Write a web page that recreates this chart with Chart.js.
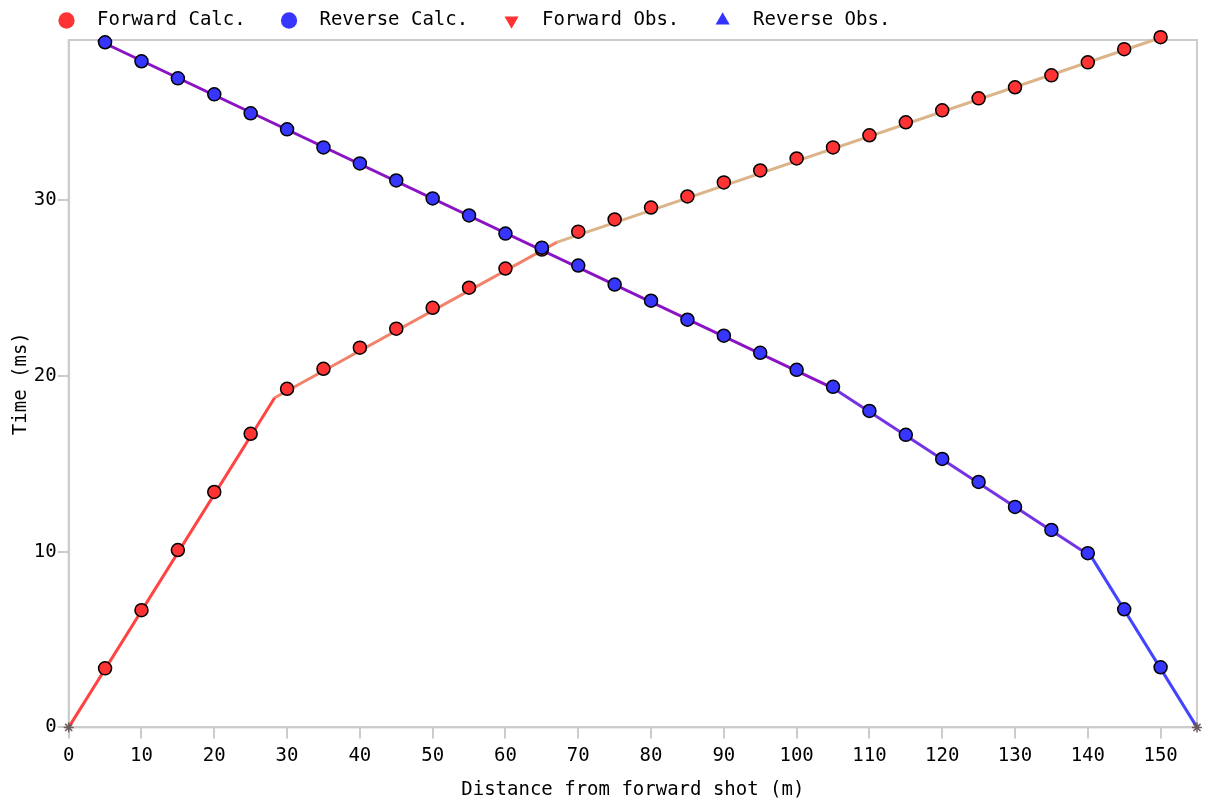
<!DOCTYPE html>
<html>
<head>
<meta charset="utf-8">
<script src="https://cdn.jsdelivr.net/npm/chart.js@4.4.0/dist/chart.umd.min.js"></script>
<style>
  html, body { margin: 0; padding: 0; background: #fff; }
  #wrap { width: 1210px; height: 808px; }
</style>
</head>
<body>
<div id="wrap"><canvas id="myChart"></canvas></div>
<script>
// receiver positions (m)
const distance = [5, 10, 15, 20, 25, 30, 35, 40, 45, 50, 55, 60, 65, 70, 75,
                  80, 85, 90, 95, 100, 105, 110, 115, 120, 125, 130, 135, 140, 145, 150];
// travel times (ms)
const forwardCalc = [3.36, 6.67, 10.09, 13.39, 16.70, 19.26, 20.40, 21.60, 22.68, 23.87,
                     25.01, 26.10, 27.18, 28.20, 28.89, 29.57, 30.20, 31.00, 31.68, 32.36,
                     32.99, 33.68, 34.42, 35.10, 35.78, 36.41, 37.09, 37.83, 38.58, 39.26];
const reverseCalc = [38.97, 37.89, 36.92, 36.01, 34.93, 34.02, 32.99, 32.08, 31.11, 30.09,
                     29.12, 28.09, 27.29, 26.27, 25.19, 24.27, 23.19, 22.28, 21.31, 20.34,
                     19.37, 18.00, 16.64, 15.27, 13.96, 12.54, 11.23, 9.91, 6.72, 3.42];
// shot points
const shotX = [0, 155];
const shotY = [0, 0];
// fitted travel-time branches (layer 1, 2, 3)
const fwdBranchX = [[0, 28.3], [28.3, 67.1], [67.1, 150.5]];
const fwdBranchY = [[0, 18.75], [18.75, 27.6], [27.6, 39.3]];
const revBranchX = [[155, 140.5], [140.5, 105], [105, 4]];
const revBranchY = [[0, 9.7], [9.7, 19.3], [19.3, 39.1]];
const fwdColors = ['#ff4242', '#f2836a', '#dcb48a'];
const revColors = ['#4444ff', '#7434e6', '#8a14c4'];

const xTicks = [0, 155, 10];
const yTicks = [0, 39.1, 10];

function pts(xs, ys) {
    return xs.map((x, i) => ({ x: x, y: ys[i] }));
}

Chart.defaults.font.family = "'DejaVu Sans Mono', monospace";
Chart.defaults.font.size = 19;
Chart.defaults.color = '#000';

var datasets = [
    {
        label: 'Forward Calc.',
        data: pts(distance, forwardCalc),
        backgroundColor: '#ff3333',
        borderColor: '#000',
        pointRadius: 6.5,
        pointBorderWidth: 1.5,
        clip: false,
        inLegend: true
    },
    {
        label: 'Reverse Calc.',
        data: pts(distance, reverseCalc),
        backgroundColor: '#3636ff',
        borderColor: '#000',
        pointRadius: 6.5,
        pointBorderWidth: 1.5,
        clip: false,
        order: -1, // blue points sit on top of red ones
        inLegend: true
    },
    {
        label: 'Forward Obs.',
        data: [],
        backgroundColor: '#ff3333',
        borderColor: '#ff3333',
        pointStyle: 'triangle',
        pointRotation: 180,
        inLegend: true
    },
    {
        label: 'Reverse Obs.',
        data: [],
        backgroundColor: '#3333ff',
        borderColor: '#3333ff',
        pointStyle: 'triangle',
        inLegend: true
    },
    {
        label: 'shots',
        data: pts(shotX, shotY),
        pointStyle: 'star',
        pointRadius: 5,
        borderColor: '#6a5a5a',
        pointBorderWidth: 1.5,
        clip: false
    }
];

// line branches go underneath the points
fwdBranchX.forEach(function(xs, i) {
    datasets.push({
        label: 'fwd' + i,
        data: pts(xs, fwdBranchY[i]),
        showLine: true,
        borderColor: fwdColors[i],
        borderWidth: 3,
        pointRadius: 0,
        clip: false
    });
});
revBranchX.forEach(function(xs, i) {
    datasets.push({
        label: 'rev' + i,
        data: pts(xs, revBranchY[i]),
        showLine: true,
        borderColor: revColors[i],
        borderWidth: 3,
        pointRadius: 0,
        clip: false
    });
});

// box around the plot area
const plotBox = {
    id: 'plotBox',
    beforeDatasetsDraw(chart) {
        const a = chart.chartArea, c = chart.ctx;
        c.save();
        c.strokeStyle = '#cccccc';
        c.lineWidth = 2;
        c.strokeRect(a.left, a.top, a.right - a.left, a.bottom - a.top);
        c.restore();
    }
};

// legend starts near the plot's left edge
const legendOffset = {
    id: 'legendOffset',
    afterLayout(chart) {
        chart.legend.left = 46;
    }
};

var ctx = document.getElementById('myChart').getContext('2d');
var myChart = new Chart(ctx, {
    type: 'scatter',
    data: { datasets: datasets },
    plugins: [plotBox, legendOffset],
    options: {
        responsive: true,
        maintainAspectRatio: false,
        animation: false,
        layout: {
            padding: { top: 0, right: 13, bottom: 7, left: 10 }
        },
        plugins: {
            legend: {
                align: 'start',
                labels: {
                    usePointStyle: true,
                    boxHeight: 11.5,
                    padding: 11,
                    font: { size: 19 },
                    filter: (item, data) => data.datasets[item.datasetIndex].inLegend,
                    sort: (a, b) => a.datasetIndex - b.datasetIndex,
                    generateLabels: function(chart) {
                        var items = Chart.defaults.plugins.legend.labels.generateLabels(chart);
                        return items.map(function(it) {
                            it.lineWidth = 0;
                            it.strokeStyle = 'rgba(0,0,0,0)';
                            it.text = ' ' + it.text + (it.datasetIndex < 3 ? '  ' : '');
                            return it;
                        });
                    }
                }
            },
            tooltip: { enabled: false }
        },
        scales: {
            x: {
                type: 'linear',
                min: xTicks[0],
                max: xTicks[1],
                ticks: { stepSize: xTicks[2], includeBounds: false, padding: 6, maxRotation: 0 },
                grid: { drawOnChartArea: false, color: '#cccccc', lineWidth: 2, tickLength: 11 },
                border: { color: '#cccccc', width: 2 },
                title: { display: true, text: 'Distance from forward shot (m)', padding: { top: 5, bottom: 0 } }
            },
            y: {
                type: 'linear',
                min: yTicks[0],
                max: yTicks[1],
                ticks: { stepSize: yTicks[2], includeBounds: false, padding: 1 },
                grid: { drawOnChartArea: false, color: '#cccccc', lineWidth: 2, tickLength: 11 },
                border: { color: '#cccccc', width: 2 },
                title: { display: true, text: 'Time (ms)', padding: { top: 0, bottom: 0 } }
            }
        }
    }
});
</script>
</body>
</html>
